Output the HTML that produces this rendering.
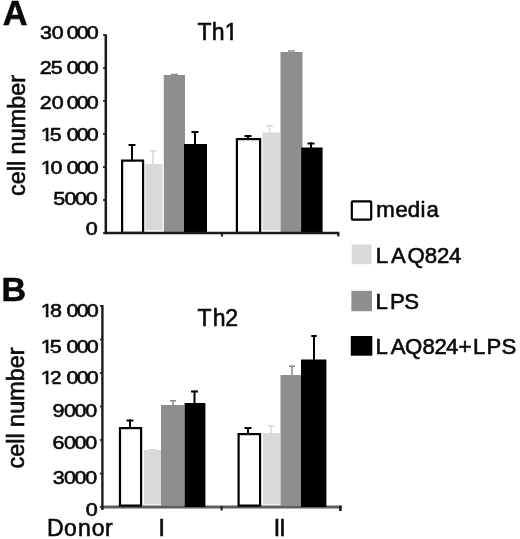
<!DOCTYPE html>
<html><head><meta charset="utf-8"><title>Figure</title>
<style>
html,body{margin:0;padding:0;background:#fff;}
svg{display:block;font-family:"Liberation Sans",sans-serif;}
svg text{fill:#0a0a0a;stroke:#0a0a0a;stroke-width:0.6px;}
</style></head><body>
<svg width="520" height="539" viewBox="0 0 520 539">
<rect x="0" y="0" width="520" height="539" fill="#fff"/>
<rect x="145.30" y="164.00" width="17.20" height="66.30" fill="#d9d9d9"/>
<rect x="163.80" y="75.00" width="21.20" height="157.00" fill="#8e8e8e"/>
<rect x="184.00" y="144.00" width="23.00" height="89.00" fill="#000"/>
<rect x="122.10" y="160.60" width="21.00" height="72.30" fill="#fff" stroke="#000" stroke-width="2.2"/>
<line x1="132.00" y1="144.00" x2="132.00" y2="160.00" stroke="#000" stroke-width="2"/>
<line x1="128.50" y1="145.00" x2="135.50" y2="145.00" stroke="#000" stroke-width="2"/>
<line x1="153.00" y1="150.00" x2="153.00" y2="165.00" stroke="#d9d9d9" stroke-width="1.6"/>
<line x1="149.50" y1="150.80" x2="156.50" y2="150.80" stroke="#d9d9d9" stroke-width="1.6"/>
<line x1="195.00" y1="131.00" x2="195.00" y2="145.00" stroke="#000" stroke-width="2"/>
<line x1="191.50" y1="132.00" x2="198.50" y2="132.00" stroke="#000" stroke-width="2"/>
<line x1="171.00" y1="74.50" x2="178.00" y2="74.50" stroke="#8e8e8e" stroke-width="1.5"/>
<rect x="262.50" y="132.50" width="17.50" height="97.80" fill="#d9d9d9"/>
<rect x="280.50" y="52.00" width="22.00" height="180.00" fill="#8e8e8e"/>
<rect x="301.20" y="147.50" width="21.40" height="85.50" fill="#000"/>
<rect x="236.90" y="139.10" width="23.20" height="93.80" fill="#fff" stroke="#000" stroke-width="2.2"/>
<line x1="248.00" y1="135.00" x2="248.00" y2="139.00" stroke="#000" stroke-width="2"/>
<line x1="244.50" y1="136.00" x2="251.50" y2="136.00" stroke="#000" stroke-width="2"/>
<line x1="269.50" y1="125.00" x2="269.50" y2="133.00" stroke="#d9d9d9" stroke-width="1.6"/>
<line x1="266.00" y1="125.80" x2="273.00" y2="125.80" stroke="#d9d9d9" stroke-width="1.6"/>
<line x1="311.00" y1="142.50" x2="311.00" y2="148.00" stroke="#000" stroke-width="2"/>
<line x1="307.50" y1="143.50" x2="314.50" y2="143.50" stroke="#000" stroke-width="2"/>
<line x1="288.00" y1="51.00" x2="295.00" y2="51.00" stroke="#8e8e8e" stroke-width="1.5"/>
<line x1="105.80" y1="34.50" x2="105.80" y2="234.20" stroke="#1a1a1a" stroke-width="2.5"/>
<line x1="104.80" y1="233.00" x2="339.30" y2="233.00" stroke="#1a1a1a" stroke-width="2.4"/>
<line x1="103.10" y1="35.00" x2="105.80" y2="35.00" stroke="#1a1a1a" stroke-width="1.8"/>
<line x1="103.10" y1="68.00" x2="105.80" y2="68.00" stroke="#1a1a1a" stroke-width="1.8"/>
<line x1="103.10" y1="101.00" x2="105.80" y2="101.00" stroke="#1a1a1a" stroke-width="1.8"/>
<line x1="103.10" y1="134.00" x2="105.80" y2="134.00" stroke="#1a1a1a" stroke-width="1.8"/>
<line x1="103.10" y1="167.00" x2="105.80" y2="167.00" stroke="#1a1a1a" stroke-width="1.8"/>
<line x1="103.10" y1="200.00" x2="105.80" y2="200.00" stroke="#1a1a1a" stroke-width="1.8"/>
<line x1="103.10" y1="233.00" x2="105.80" y2="233.00" stroke="#1a1a1a" stroke-width="1.8"/>
<line x1="222.00" y1="233.00" x2="222.00" y2="236.50" stroke="#1a1a1a" stroke-width="2"/>
<line x1="338.30" y1="233.00" x2="338.30" y2="236.50" stroke="#1a1a1a" stroke-width="2.2"/>
<text transform="scale(1.13 1)" x="35.47 45.81 56.37 59.08 67.93 76.87" y="39.4" font-size="19.0">30 000</text>
<text transform="scale(1.13 1)" x="35.24 44.99 55.56 59.08 67.93 76.87" y="73.8" font-size="19.0">25 000</text>
<text transform="scale(1.13 1)" x="35.24 45.81 56.37 59.08 67.93 76.87" y="108.8" font-size="19.0">20 000</text>
<clipPath id="c1"><path clip-rule="evenodd" d="M0 0H520V539H0ZM41.53 139.18H45.80V142.60H41.53ZM48.50 139.18H52.59V142.60H48.50Z"/></clipPath><g clip-path="url(#c1)"><text transform="scale(1.13 1)" x="36.11 44.11 54.67 59.08 67.93 76.87" y="141.4" font-size="19.0">15 000</text></g>
<clipPath id="c2"><path clip-rule="evenodd" d="M0 0H520V539H0ZM41.53 171.58H45.80V175.00H41.53ZM48.50 171.58H52.59V175.00H48.50Z"/></clipPath><g clip-path="url(#c2)"><text transform="scale(1.13 1)" x="36.11 44.66 55.22 59.08 67.93 76.87" y="173.8" font-size="19.0">10 000</text></g>
<text transform="scale(1.13 1)" x="47.03 57.05 66.34 75.89" y="204.8" font-size="19.0">5000</text>
<text transform="scale(1.13 1)" x="75.89" y="235" font-size="19.0">0</text>
<clipPath id="c3"><path clip-rule="evenodd" d="M0 0H520V539H0ZM225.53 37.18H230.06V40.90H225.53ZM232.90 37.18H237.24V40.90H232.90Z"/></clipPath><g clip-path="url(#c3)"><text x="197.38 211.71 224.68" y="39.7" font-size="23">Th1</text></g>
<text x="2.8" y="25.1" font-size="34.3" text-anchor="start" font-weight="bold">A</text>
<text transform="translate(25,196) rotate(-90)" font-size="23.5" textLength="121" lengthAdjust="spacingAndGlyphs">cell number</text>
<line x1="102.40" y1="507.10" x2="341.60" y2="507.10" stroke="#5e5e5e" stroke-width="3.0"/>
<rect x="144.00" y="450.00" width="17.00" height="54.30" fill="#d9d9d9"/>
<rect x="161.00" y="405.00" width="23.50" height="101.00" fill="#8e8e8e"/>
<rect x="184.60" y="403.00" width="20.80" height="104.00" fill="#000"/>
<rect x="120.00" y="428.10" width="21.10" height="77.50" fill="#fff" stroke="#000" stroke-width="2.2"/>
<line x1="130.00" y1="419.50" x2="130.00" y2="428.00" stroke="#000" stroke-width="2"/>
<line x1="126.50" y1="420.50" x2="133.50" y2="420.50" stroke="#000" stroke-width="2"/>
<line x1="173.00" y1="400.00" x2="173.00" y2="406.00" stroke="#8e8e8e" stroke-width="1.6"/>
<line x1="170.00" y1="400.80" x2="176.00" y2="400.80" stroke="#8e8e8e" stroke-width="1.6"/>
<line x1="194.50" y1="390.50" x2="194.50" y2="404.00" stroke="#000" stroke-width="2"/>
<line x1="191.00" y1="391.50" x2="198.00" y2="391.50" stroke="#000" stroke-width="2"/>
<line x1="149.00" y1="449.50" x2="156.00" y2="449.50" stroke="#d9d9d9" stroke-width="1.2"/>
<rect x="263.00" y="433.00" width="17.00" height="71.30" fill="#d9d9d9"/>
<rect x="280.50" y="375.00" width="20.50" height="131.00" fill="#8e8e8e"/>
<rect x="301.00" y="359.50" width="25.40" height="147.50" fill="#000"/>
<rect x="238.60" y="434.10" width="21.50" height="71.50" fill="#fff" stroke="#000" stroke-width="2.2"/>
<line x1="248.00" y1="427.00" x2="248.00" y2="434.00" stroke="#000" stroke-width="2"/>
<line x1="244.50" y1="428.00" x2="251.50" y2="428.00" stroke="#000" stroke-width="2"/>
<line x1="271.00" y1="425.00" x2="271.00" y2="434.00" stroke="#d9d9d9" stroke-width="1.6"/>
<line x1="268.00" y1="425.80" x2="274.00" y2="425.80" stroke="#d9d9d9" stroke-width="1.6"/>
<line x1="292.00" y1="365.50" x2="292.00" y2="376.00" stroke="#8e8e8e" stroke-width="1.6"/>
<line x1="289.00" y1="366.30" x2="295.00" y2="366.30" stroke="#8e8e8e" stroke-width="1.6"/>
<line x1="314.00" y1="335.00" x2="314.00" y2="360.00" stroke="#000" stroke-width="2"/>
<line x1="311.25" y1="336.00" x2="316.75" y2="336.00" stroke="#000" stroke-width="2"/>
<line x1="102.40" y1="305.00" x2="102.40" y2="510.00" stroke="#1a1a1a" stroke-width="2.4"/>
<line x1="99.90" y1="306.00" x2="102.40" y2="306.00" stroke="#1a1a1a" stroke-width="1.6"/>
<line x1="99.90" y1="339.50" x2="102.40" y2="339.50" stroke="#1a1a1a" stroke-width="1.6"/>
<line x1="99.90" y1="373.00" x2="102.40" y2="373.00" stroke="#1a1a1a" stroke-width="1.6"/>
<line x1="99.90" y1="406.50" x2="102.40" y2="406.50" stroke="#1a1a1a" stroke-width="1.6"/>
<line x1="99.90" y1="440.00" x2="102.40" y2="440.00" stroke="#1a1a1a" stroke-width="1.6"/>
<line x1="99.90" y1="473.50" x2="102.40" y2="473.50" stroke="#1a1a1a" stroke-width="1.6"/>
<line x1="99.90" y1="507.00" x2="102.40" y2="507.00" stroke="#1a1a1a" stroke-width="1.6"/>
<line x1="221.60" y1="506.10" x2="221.60" y2="510.60" stroke="#1a1a1a" stroke-width="2"/>
<line x1="340.40" y1="505.60" x2="340.40" y2="511.10" stroke="#1a1a1a" stroke-width="2.6"/>
<clipPath id="c4"><path clip-rule="evenodd" d="M0 0H520V539H0ZM41.53 314.48H45.80V317.90H41.53ZM48.50 314.48H52.59V317.90H48.50Z"/></clipPath><g clip-path="url(#c4)"><text transform="scale(1.13 1)" x="36.11 44.22 54.79 58.90 67.84 76.78" y="316.7" font-size="19.0">18 000</text></g>
<clipPath id="c5"><path clip-rule="evenodd" d="M0 0H520V539H0ZM41.53 351.08H45.80V354.50H41.53ZM48.50 351.08H52.59V354.50H48.50Z"/></clipPath><g clip-path="url(#c5)"><text transform="scale(1.13 1)" x="36.11 44.11 54.67 58.90 67.84 76.78" y="353.3" font-size="19.0">15 000</text></g>
<clipPath id="c6"><path clip-rule="evenodd" d="M0 0H520V539H0ZM41.53 381.58H45.80V385.00H41.53ZM48.50 381.58H52.59V385.00H48.50Z"/></clipPath><g clip-path="url(#c6)"><text transform="scale(1.13 1)" x="36.11 44.09 54.66 58.90 67.84 76.78" y="383.8" font-size="19.0">12 000</text></g>
<text transform="scale(1.13 1)" x="46.54 56.60 65.89 75.45" y="417" font-size="19.0">9000</text>
<text transform="scale(1.13 1)" x="46.47 56.60 65.89 75.45" y="448.8" font-size="19.0">6000</text>
<text transform="scale(1.13 1)" x="46.71 56.60 65.89 75.45" y="483.8" font-size="19.0">3000</text>
<text transform="scale(1.13 1)" x="75.89" y="515.9" font-size="19.0">0</text>
<text x="197.38 212.71 225.34" y="326.3" font-size="23">Th2</text>
<text x="1.6" y="300.8" font-size="34" text-anchor="start" font-weight="bold">B</text>
<text transform="translate(23.8,468.5) rotate(-90)" font-size="23.5" textLength="121" lengthAdjust="spacingAndGlyphs">cell number</text>
<text x="46.91 63.93 77.97 91.63 104.97" y="536.3" font-size="23">Donor</text>
<text x="158.38" y="536.3" font-size="23">I</text>
<text x="273.78 279.28" y="536.3" font-size="23">II</text>
<rect x="351.8" y="201.4" width="19.4" height="18.3" rx="1" fill="#fff" stroke="#000" stroke-width="2.2"/>
<rect x="351.70" y="244.50" width="19.90" height="19.70" fill="#d9d9d9"/>
<rect x="351.40" y="290.80" width="20.60" height="20.40" fill="#8e8e8e"/>
<rect x="350.80" y="336.00" width="21.50" height="19.70" fill="#000"/>
<text x="376.23 395.56 407.67 420.61 426.56" y="216.6" font-size="22.2">media</text>
<text x="375.78 391.06 407.45 424.84 437.08 449.09" y="263.0" font-size="22.2">LAQ824</text>
<text x="375.58 389.88 404.19" y="309.0" font-size="22.2">LPS</text>
<text x="375.58 390.86 405.05 422.44 434.38 445.99 458.62 473.08 486.48 501.49" y="353.6" font-size="22.2">LAQ824+LPS</text>
</svg>
</body></html>
